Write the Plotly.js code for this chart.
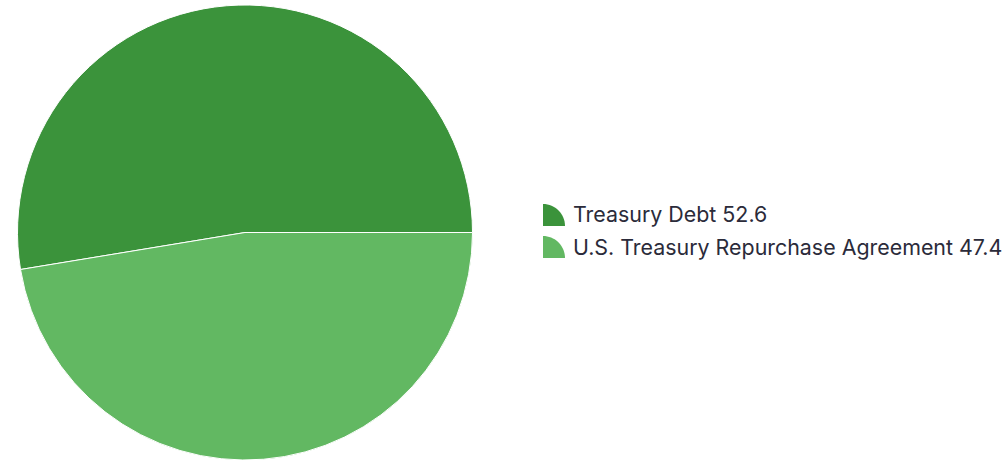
<!DOCTYPE html>
<html>
<head>
<meta charset="utf-8">
<script src="https://cdn.plot.ly/plotly-3.0.1.min.js"></script>
<style>html,body{margin:0;padding:0;background:#fff;}#chart{width:1003px;height:461px;}</style>
</head>
<body>
<div id="chart"></div>
<script>
const labels = ["Treasury Debt", "U.S. Treasury Repurchase Agreement"];
const values = [52.6, 47.4];
const colors = ["#3b933b", "#62b862"];

const W = 1003, H = 461;
const px = x => x / W;
const py = y => 1 - y / H;

const shapes = [];
const annotations = [];
const legendX = 543, iconSize = 22, rowY0 = 215, rowGap = 32;
labels.forEach((lab, i) => {
  const cy = rowY0 + i * rowGap;
  const bx = legendX, by = cy + 11, r = iconSize;
  const k = 0.5523 * r;
  const path = `M ${px(bx)} ${py(by)} L ${px(bx)} ${py(by - r)} C ${px(bx + k)} ${py(by - r)} ${px(bx + r)} ${py(by - k)} ${px(bx + r)} ${py(by)} Z`;
  shapes.push({type: 'path', xref: 'paper', yref: 'paper', path: path,
    fillcolor: colors[i], line: {width: 0}});
  annotations.push({xref: 'paper', yref: 'paper', x: px(571), y: py(cy - 0.5),
    xanchor: 'left', yanchor: 'middle', showarrow: false,
    text: lab + ' ' + values[i],
    font: {family: 'Inter', size: 21.4, color: '#2b2b3a'}});
});

// first slice ends at 3 o'clock when drawn clockwise
const total = values.reduce((a, b) => a + b, 0);
const startRotation = 90 - 360 * values[0] / total;

const data = [{
  type: 'pie',
  labels: labels,
  values: values,
  sort: false,
  direction: 'clockwise',
  rotation: startRotation,
  textinfo: 'none',
  hoverinfo: 'label+value',
  marker: {colors: colors, line: {color: '#ffffff', width: 1}},
  domain: {x: [px(17), px(473)], y: [py(460), py(5)]},
  showlegend: false
}];

const layout = {
  width: W, height: H,
  margin: {l: 0, r: 0, t: 0, b: 0},
  paper_bgcolor: '#ffffff',
  showlegend: false,
  shapes: shapes,
  annotations: annotations
};

Plotly.newPlot('chart', data, layout, {displayModeBar: false, staticPlot: true});
</script>
</body>
</html>
